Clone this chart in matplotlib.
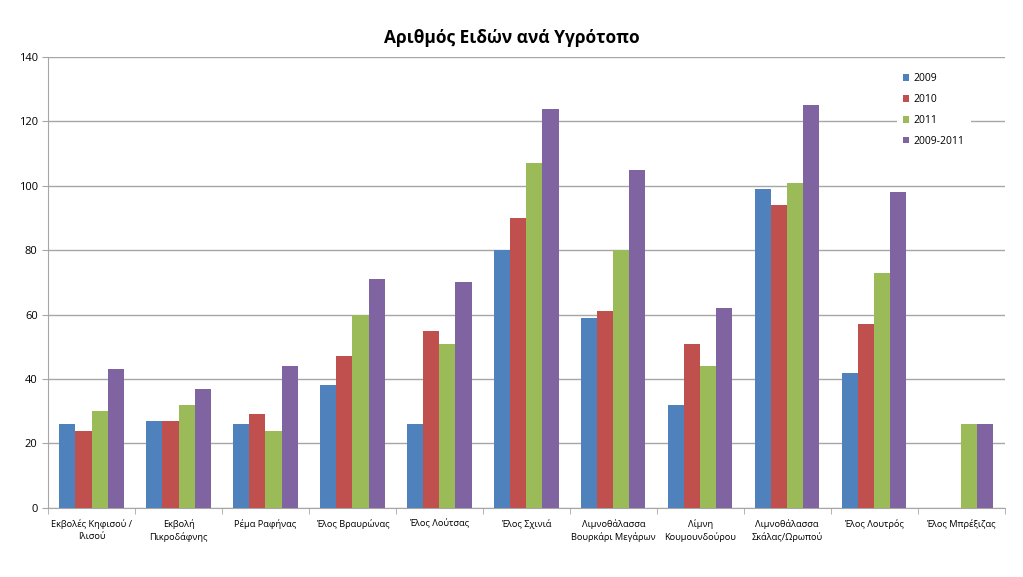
import numpy as np
import matplotlib
matplotlib.use("Agg")
import matplotlib.pyplot as plt

plt.rcParams['font.family'] = ['Open Sans', 'DejaVu Sans']

sites = ["Εκβολές Κηφισού /\nΙλισού", "Εκβολή\nΠικροδάφνης", "Ρέμα Ραφήνας",
         "Έλος Βραυρώνας", "Έλος Λούτσας", "Έλος Σχινιά",
         "Λιμνοθάλασσα\nΒουρκάρι Μεγάρων", "Λίμνη\nΚουμουνδούρου",
         "Λιμνοθάλασσα\nΣκάλας/Ωρωπού", "Έλος Λουτρός", "Έλος Μπρέξιζας"]

y2009 = [26, 27, 26, 38, 26, 80, 59, 32, 99, 42, 0]
y2010 = [24, 27, 29, 47, 55, 90, 61, 51, 94, 57, 0]
y2011 = [30, 32, 24, 60, 51, 107, 80, 44, 101, 73, 26]
y_all = [43, 37, 44, 71, 70, 124, 105, 62, 125, 98, 26]

series = [("2009", y2009, "#4F81BD"),
          ("2010", y2010, "#C0504D"),
          ("2011", y2011, "#9BBB59"),
          ("2009-2011", y_all, "#8064A2")]

fig = plt.figure(figsize=(10.23, 5.77), dpi=100)
ax = fig.add_axes([0.047, 0.12, 0.935, 0.781])

x = np.arange(len(sites))
w = 0.185
for i, (name, vals, col) in enumerate(series):
    ax.bar(x + (i - 1.5) * w, vals, w, color=col, label=name, zorder=3)

ax.set_xlim(-0.5, len(sites) - 0.5)
ax.set_ylim(0, 140)
ax.set_yticks(range(0, 141, 20))
ax.yaxis.grid(True, color="#A6A6A6", linewidth=1.0, zorder=0)

ax.set_xticks(x)
ax.set_xticklabels(sites, fontsize=6.7, linespacing=1.4)
ax.set_xticks(np.arange(-0.5, len(sites), 1), minor=True)
ax.tick_params(axis="x", which="major", length=0, pad=8)
ax.tick_params(axis="x", which="minor", length=4, color="#A6A6A6")
ax.tick_params(axis="y", length=4, color="#A6A6A6", labelsize=8)

for s in ["top", "right"]:
    ax.spines[s].set_visible(False)
for s in ["left", "bottom"]:
    ax.spines[s].set_color("#A6A6A6")

leg = ax.legend(loc="upper right", bbox_to_anchor=(0.97, 0.99), frameon=True,
                fontsize=7.5, handlelength=0.6, handleheight=0.6, handletextpad=0.4,
                labelspacing=0.95, borderpad=0.6)
leg.get_frame().set_edgecolor("none")
leg.get_frame().set_facecolor("white")
leg.get_frame().set_alpha(1)

fig.text(0.5, 0.925, "Αριθμός Ειδών ανά Υγρότοπο", ha="center", fontsize=12.5,
         fontweight="bold")

fig.savefig("out.png", dpi=100)
